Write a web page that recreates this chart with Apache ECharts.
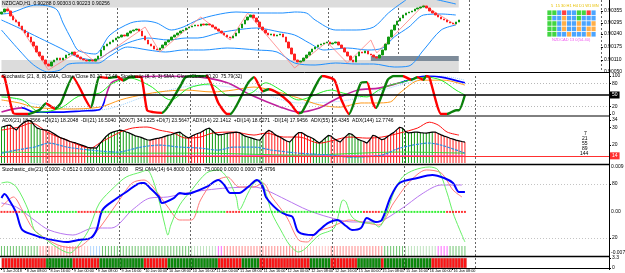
<!DOCTYPE html>
<html>
<head>
<meta charset="utf-8">
<title>NZDCAD H1</title>
<script src="https://cdn.jsdelivr.net/npm/echarts@6.0.0/dist/echarts.min.js"></script>
<style>
  html, body { margin: 0; padding: 0; background: #fff; }
  #chart { width: 625px; height: 273px; }
</style>
</head>
<body>
<div id="chart"></div>
<script>
// hourly bars, the chart keeps an empty shift area on the right
const SLOTS = 205;
const timeLabels = ['5 Jan 2018', '8 Jan 08:00', '8 Jan 16:00', '9 Jan 00:00', '9 Jan 08:00', '9 Jan 16:00',
  '10 Jan 00:00', '10 Jan 08:00', '10 Jan 16:00', '11 Jan 00:00', '11 Jan 08:00', '11 Jan 16:00',
  '12 Jan 00:00', '12 Jan 08:00', '12 Jan 16:00', '15 Jan 00:00', '15 Jan 08:00', '15 Jan 16:00',
  '16 Jan 00:00', '16 Jan 08:00'];

const firstOpen = 0.90340;
const closes = [
  0.90350, 0.90365, 0.90355, 0.90330, 0.90310, 0.90300, 0.90280, 0.90260, 0.90245, 0.90225,
  0.90200, 0.90180, 0.90150, 0.90130, 0.90110, 0.90090, 0.90080, 0.90100, 0.90110, 0.90120,
  0.90110, 0.90120, 0.90135, 0.90140, 0.90150, 0.90135, 0.90125, 0.90115, 0.90110, 0.90105,
  0.90110, 0.90105, 0.90115, 0.90130, 0.90160, 0.90180, 0.90190, 0.90200, 0.90210, 0.90220,
  0.90225, 0.90235, 0.90230, 0.90245, 0.90255, 0.90260, 0.90265, 0.90255, 0.90230, 0.90210,
  0.90190, 0.90180, 0.90165, 0.90160, 0.90170, 0.90185, 0.90200, 0.90210, 0.90225, 0.90235,
  0.90245, 0.90255, 0.90260, 0.90270, 0.90275, 0.90280, 0.90285, 0.90280, 0.90290, 0.90285,
  0.90290, 0.90285, 0.90275, 0.90265, 0.90255, 0.90245, 0.90235, 0.90225, 0.90220, 0.90230,
  0.90245, 0.90270, 0.90290, 0.90310, 0.90325, 0.90335, 0.90320, 0.90300, 0.90275, 0.90260,
  0.90245, 0.90235, 0.90240, 0.90230, 0.90235, 0.90240, 0.90225, 0.90200, 0.90170, 0.90140,
  0.90110, 0.90100, 0.90105, 0.90120, 0.90135, 0.90150, 0.90165, 0.90175, 0.90185, 0.90190,
  0.90195, 0.90200, 0.90190, 0.90195, 0.90200, 0.90185, 0.90170, 0.90150, 0.90130, 0.90110,
  0.90100, 0.90130, 0.90150, 0.90145, 0.90155, 0.90140, 0.90135, 0.90125, 0.90120, 0.90135,
  0.90160, 0.90190, 0.90225, 0.90260, 0.90285, 0.90305, 0.90320, 0.90335, 0.90345, 0.90350,
  0.90355, 0.90365, 0.90370, 0.90375, 0.90380, 0.90370, 0.90355, 0.90345, 0.90335, 0.90325,
  0.90315, 0.90310, 0.90300, 0.90295, 0.90290, 0.90300, 0.90310
];

// bollinger bands, read at a few bars
const bbIdxU = [0, 3, 12, 16, 19, 21, 24, 26, 29, 32, 37, 44, 49, 53, 58, 62, 67, 73, 80, 88, 96, 100, 104, 107, 114, 121, 127, 132, 137, 141, 149, 155];
const bbUpper = [0.90340, 0.90345, 0.90385, 0.90380, 0.90360, 0.90295, 0.90210, 0.90160, 0.90145, 0.90140,
  0.90235, 0.90295, 0.90305, 0.90295, 0.90260, 0.90275, 0.90310, 0.90335, 0.90350, 0.90345,
  0.90345, 0.90350, 0.90345, 0.90310, 0.90260, 0.90260, 0.90275, 0.90345, 0.90400, 0.90435, 0.90410, 0.90390];
const bbIdxM = [0, 6, 13, 20, 26, 32, 37, 43, 50, 57, 63, 67, 74, 80, 87, 95, 100, 105, 110, 114, 118, 125, 130, 134, 139, 144, 150, 155];
const bbMid = [0.90310, 0.90270, 0.90220, 0.90170, 0.90125, 0.90110, 0.90150, 0.90195, 0.90220, 0.90210,
  0.90220, 0.90220, 0.90245, 0.90260, 0.90270, 0.90250, 0.90235, 0.90195, 0.90160, 0.90165,
  0.90170, 0.90160, 0.90170, 0.90225, 0.90275, 0.90335, 0.90340, 0.90335];
const bbIdxL = [0, 6, 11, 16, 20, 23, 28, 33, 37, 43, 50, 56, 62, 69, 77, 87, 94, 100, 107, 114, 121, 127, 134, 139, 144, 150, 155];
const bbLower = [0.90260, 0.90160, 0.90085, 0.90050, 0.90060, 0.90090, 0.90095, 0.90095, 0.90130, 0.90175,
  0.90160, 0.90150, 0.90160, 0.90160, 0.90170, 0.90160, 0.90150, 0.90095, 0.90085, 0.90095,
  0.90090, 0.90090, 0.90075, 0.90080, 0.90160, 0.90260, 0.90285];
const zigIdx = [2, 16, 27, 32, 49, 54, 68, 78, 84, 100, 111, 118, 126, 128, 144, 155];
const zigVal = [0.90375, 0.90060, 0.90160, 0.90100, 0.90275, 0.90150, 0.90325, 0.90210, 0.90345, 0.90070,
  0.90200, 0.90095, 0.90210, 0.90145, 0.90385, 0.90285];
const levelLines = [0.90355, 0.90265, 0.90230, 0.90190, 0.90150];
const bidPrice = 0.90325;
const priceTicks = [0.90355, 0.90295, 0.90240, 0.90175, 0.90110, 0.90050];

// stochastic panel
const kIdx = [0, 1, 4, 6, 9, 11, 13, 15, 17, 18, 20, 24, 30, 33, 36, 39, 41, 43, 45, 47,
  49, 51, 54, 60, 62, 66, 69, 73, 76, 77, 83, 85, 88, 90, 93, 97, 100, 101, 105, 108,
  112, 114, 117, 121, 123, 125, 126, 130, 132, 135, 138, 140, 142, 143, 144, 148, 150, 151, 153, 154, 156];
const kVal = [100, 97, 2, 0, 0, 5, 12, 28, 18, 14, 29, 97, 18, 97, 95, 98, 88, 97, 98, 97,
  10, 5, 3, 71, 97, 100, 100, 29, 0, 0, 82, 97, 60, 65, 55, 30, 2, 3, 63, 100,
  90, 45, 0, 82, 84, 29, 16, 90, 100, 100, 90, 97, 90, 100, 97, 0, 0, 3, 10, 10, 50];
const limeIdx = [0, 7, 13, 20, 26, 33, 37, 43, 50, 57, 63, 70, 77, 84, 89, 94, 100, 111, 115, 118, 123, 127, 131, 134, 143, 148, 153, 156];
const limeVal = [45, 37, 5, 16, 47, 55, 79, 95, 74, 37, 68, 79, 47, 55, 82, 63, 37, 63, 55, 50, 45, 63, 76, 82, 97, 89, 63, 50];
const orIdx = [0, 6, 11, 22, 33, 40, 44, 53, 62, 71, 78, 85, 93, 100, 107, 114, 121, 126, 131, 134, 141, 149, 156];
const orVal = [37, 29, 18, 13, 18, 37, 45, 58, 63, 58, 63, 71, 58, 42, 24, 18, 29, 29, 32, 55, 89, 89, 76];
const lbIdx = [0, 13, 33, 50, 67, 84, 100, 117, 134, 148, 156];
const lbVal = [50, 24, 11, 50, 76, 63, 29, 37, 76, 100, 89];
const slowIdx = [0, 7, 11, 20, 27, 33, 37, 43, 54, 67, 76, 84, 94, 100, 107, 112, 120, 127, 134, 143, 148, 156];
const slowVal = [5, 16, 5, 5, 8, 11, 82, 95, 100, 97, 82, 50, 18, 5, 16, 37, 63, 68, 82, 100, 97, 82];

// ADX panel
const adxVal = [
  30.0, 30.5, 31.0, 31.2, 29.5, 28.4, 30.5, 32.0, 33.0, 33.8,
  33.5, 31.0, 29.5, 29.0, 28.6, 28.4, 28.0, 27.0, 26.0, 25.0,
  24.0, 23.5, 22.8, 22.0, 21.6, 21.2, 20.6, 20.0, 19.4, 18.8,
  18.5, 18.4, 18.3, 20.5, 22.5, 24.5, 26.0, 27.0, 27.5, 28.0,
  28.4, 28.0, 27.3, 26.8, 26.0, 25.2, 24.8, 24.3, 23.6, 23.0,
  22.8, 23.2, 23.6, 23.9, 24.3, 24.9, 25.4, 25.8, 26.4, 27.0,
  27.3, 26.0, 24.8, 24.0, 25.0, 25.8, 26.5, 27.0, 28.0, 29.0,
  29.5, 28.0, 26.5, 25.7, 25.8, 26.2, 26.6, 26.8, 27.0, 27.2,
  27.0, 26.0, 25.0, 24.5, 24.0, 23.5, 23.0, 22.8, 25.0, 27.0,
  28.3, 27.5, 26.0, 25.0, 24.2, 23.2, 22.3, 21.7, 23.5, 25.5,
  27.0, 27.0, 26.0, 25.0, 24.4, 23.5, 22.3, 21.2, 22.5, 24.0,
  25.4, 25.0, 23.5, 22.5, 21.7, 23.5, 25.0, 26.5, 26.0, 24.5,
  23.2, 22.6, 22.0, 21.1, 23.0, 25.5, 25.0, 24.0, 23.0, 23.5,
  24.8, 26.0, 27.0, 28.5, 30.0, 29.5, 27.5, 26.8, 27.0, 27.2,
  27.3, 27.0, 26.8, 26.7, 27.0, 27.3, 27.3, 26.5, 25.7, 25.0,
  24.5, 23.8, 23.3, 22.8, 22.4, 22.0, 21.7
];
const adxRuns = [[2, 'G'], [8, 'R'], [4, 'G'], [15, 'R'], [21, 'G'], [6, 'R'], [7, 'G'], [6, 'R'], [8, 'G'], [4, 'R'],
  [8, 'G'], [8, 'R'], [2, 'G'], [6, 'R'], [6, 'G'], [6, 'R'], [5, 'G'], [13, 'R'], [11, 'G'], [11, 'R']];
const diRedIdx = [0, 6, 10, 16, 22, 30, 33, 40, 44, 49, 53, 58, 62, 67, 71, 78, 85, 89, 95, 100, 107, 112, 117, 123, 128, 134, 140, 144, 147, 150, 154];
const diRed = [28.4, 30.1, 32.3, 26.7, 22.8, 18.3, 21.1, 27.3, 29.5, 30.1, 28.4, 26.7, 23.9, 24.5, 26.7, 27.3,
  25.6, 26.7, 24.5, 24.5, 21.1, 22.8, 24.5, 23.9, 24.5, 26.7, 29.5, 32.8, 31.2, 27.3, 25.6];
const diBlueIdx = [0, 5, 11, 16, 22, 30, 39, 47, 53, 60, 67, 73, 78, 85, 91, 100, 111, 117, 128, 134, 144, 148, 156];
const diBlue = [15.5, 17.2, 18.9, 21.1, 18.9, 17.2, 16.1, 18.9, 20.0, 18.9, 18.3, 17.2, 18.9, 18.9, 17.2, 15.5,
  14.4, 13.3, 14.4, 18.3, 21.1, 20.0, 15.5];
const adxLimeIdx = [0, 33, 67, 100, 134, 156];
const adxLime = [16.1, 15.5, 15.5, 14.4, 16.1, 15.5];
const adxPinkIdx = [0, 50, 100, 156];
const adxPink = [13.6, 13.9, 14.2, 14.0];
const adxLevel = 14;

// stochastic_div / RSI panel
const blueIdx = [0, 1, 3, 5, 7, 11, 14, 22, 26, 30, 32, 34, 38, 42, 47, 48, 50, 53, 54, 58,
  60, 62, 64, 69, 73, 75, 77, 80, 83, 86, 88, 89, 93, 96, 98, 100, 105, 107, 110, 113,
  116, 118, 121, 123, 126, 128, 131, 134, 140, 145, 149, 152, 154, 156];
const blueVal = [64.4, 68.9, 60, 47.8, 28.9, 23.3, 20, 15.6, 17.8, 20, 28.9, 51.1, 62.2, 71.1, 81.1, 81.1, 75.6, 65.6, 58.9, 64.4,
  70, 68.9, 70, 76.7, 84.4, 78.9, 70, 70, 76.7, 84.4, 76.7, 65.6, 51.1, 45.6, 43.3, 26.7, 23.3, 28.9, 36.7, 40,
  33.3, 28.9, 31.1, 42.2, 37.8, 40, 65.6, 81.1, 86.7, 90, 86.7, 81.1, 71.1, 71.1];
const greenIdx = [0, 2, 5, 9, 11, 13, 19, 23, 26, 29, 30, 33, 38, 42, 47, 49, 51, 53, 55, 56,
  57, 60, 64, 69, 73, 76, 79, 80, 83, 85, 87, 89, 91, 94, 97, 100, 107, 112, 115, 116,
  118, 122, 125, 127, 130, 132, 135, 139, 144, 147, 150, 152, 154, 156];
const greenVal = [81.1, 82.2, 76.7, 51.1, 28.9, 23.3, 8.9, 3.3, 12.2, 26.7, 34.4, 58.9, 76.7, 87.8, 93.3, 95.6, 84.4, 62.2, 34.4, 23.3,
  34.4, 56.7, 73.3, 92.2, 95.6, 86.7, 65.6, 51.1, 70, 81.1, 84.4, 70, 47.8, 28.9, 12.2, 4.4, 23.3, 31.1, 62.2, 60,
  43.3, 36.7, 36.7, 32.2, 51.1, 70, 87.8, 95.6, 98.9, 95.6, 70, 47.8, 31.1, 15.6];
const salmonIdx = [0, 4, 7, 11, 19, 25, 30, 33, 39, 44, 48, 51, 56, 60, 64, 67, 71, 76, 80, 85,
  88, 91, 96, 100, 103, 106, 111, 114, 117, 123, 127, 132, 137, 143, 148, 152, 155];
const salmonVal = [54.4, 65.6, 51.1, 28.9, 12.2, 8.9, 20, 31.1, 58.9, 81.1, 84.4, 76.7, 54.4, 40, 40, 62.2, 81.1, 87.8, 76.7, 76.7,
  81.1, 65.6, 43.3, 17.8, 15.6, 26.7, 32.2, 36.7, 40, 36.7, 34.4, 58.9, 81.1, 95.6, 92.2, 73.3, 65.6];
const purpleIdx = [0, 5, 11, 16, 24, 31, 37, 44, 50, 56, 62, 69, 76, 85, 89, 96, 103, 110, 118, 126, 134, 142, 148, 155];
const purpleVal = [58.9, 54.4, 40, 28.9, 23.3, 31.1, 31.1, 51.1, 64.4, 65.6, 70, 73.3, 75.6, 76.7, 73.3, 62.2, 51.1, 43.3, 37.8, 37.8,
  51.1, 70, 78.9, 78.9];
const divLevel = 49;
const dotRuns = [[7, 'R'], [19, 'G'], [8, 'R'], [42, 'G'], [5, 'R'], [41, 'G'], [6, 'R'], [22, 'G'], [7, 'R']];
const histRuns = [[13, 'G'], [14, 'S'], [3, 'P'], [4, 'L'], [30, 'G'], [9, 'Q'], [2, 'M'], [25, 'S'], [11, 'P'], [18, 'S'],
  [7, 'G'], [11, 'Q'], [4, 'M'], [6, 'G']];
const blockRuns = [[15, 'R'], [9, 'G'], [9, 'R'], [15, 'G'], [8, 'R'], [17, 'G'], [8, 'R'], [6, 'G'], [17, 'R'], [7, 'G'],
  [9, 'R'], [8, 'G'], [1, 'R'], [16, 'G'], [12, 'R']];

// trend matrix, top right
const matrixRows = ['GGBRBBGGRB', 'GBBOBBGBBB', 'GGBOBBOBBO', 'GGBOBBOBOO', 'GGBBOBBBOB'];

const chart = echarts.init(document.getElementById('chart'), null, { renderer: 'canvas' });

const cats = Array.from({ length: SLOTS }, (_, i) => i);
const FONT = 'Liberation Sans';
const NARROW = 'Liberation Sans Narrow, Liberation Sans';
const pairs = (idx, vals) => idx.map((x, k) => [x, vals[k]]);
const expand = (runs) => {
  const out = [];
  runs.forEach(([n, c]) => { for (let k = 0; k < n; k++) out.push(c); });
  return out;
};

const ohlc = closes.map((c, i) => {
  const o = i ? closes[i - 1] : firstOpen;
  return [o, c, Math.min(o, c), Math.max(o, c)];
});

const grids = [
  { left: 0, right: 16, top: 0, height: 72 },
  { left: 0, right: 16, top: 76, height: 38 },
  { left: 0, right: 16, top: 117, height: 46 },
  { left: 0, right: 16, top: 166, height: 90 },
  { left: 0, right: 16, top: 246, height: 10 },
  { left: 0, right: 16, top: 258, height: 10 },
  { left: 547, top: 10, width: 49, height: 27 }
];

function xAx(g, labels) {
  return {
    type: 'category', gridIndex: g, data: cats, boundaryGap: true,
    axisLine: { show: false },
    axisTick: { show: labels, interval: (i) => i % 8 === 0 && i < 157, length: 2, lineStyle: { color: '#000' } },
    axisLabel: {
      show: labels, interval: (i) => i % 8 === 0 && i < 157, fontSize: 3.8, fontFamily: NARROW,
      color: '#000', align: 'left', margin: 0.5,
      formatter: (v) => timeLabels[v / 8] || ''
    },
    splitLine: { show: true, interval: (i) => i % 24 === 16 && i <= 160, lineStyle: { color: '#666', type: [2, 2], width: 1 } }
  };
}
function yAx(g, min, max, ticks, fmt) {
  return {
    type: 'value', gridIndex: g, position: 'right', min, max, scale: true,
    axisLine: { show: false }, splitLine: { show: false },
    axisTick: { show: true, customValues: ticks, length: 2, inside: false, lineStyle: { color: '#000' } },
    axisLabel: { show: true, customValues: ticks, fontSize: 5, fontFamily: NARROW, color: '#000', margin: 3, formatter: fmt }
  };
}
function line(g, idx, vals, color, width, extra) {
  return Object.assign({
    type: 'line', xAxisIndex: g, yAxisIndex: g, data: pairs(idx, vals), symbol: 'none', smooth: 0.3,
    lineStyle: { color, width }, silent: true, z: 3
  }, extra || {});
}

const series = [];
// price panel
series.push({
  type: 'candlestick', xAxisIndex: 0, yAxisIndex: 0, data: ohlc, barWidth: 2,
  itemStyle: { color: '#119911', color0: '#ff2020', borderColor: '#119911', borderColor0: '#ff2020', borderWidth: 1 },
  z: 4,
  markArea: {
    silent: true,
    data: [
      [{ xAxis: 0, yAxis: 0.90410, itemStyle: { color: '#dcdcdc' } }, { xAxis: 156, yAxis: 0.90372 }],
      [{ xAxis: 0, yAxis: 0.90110, itemStyle: { color: '#dcdcdc' } }, { xAxis: 156, yAxis: 0.90050 }],
      [{ xAxis: 126, yAxis: 0.90130, itemStyle: { color: '#7d8b99' } }, { xAxis: 156, yAxis: 0.90105 }]
    ]
  },
  markLine: {
    silent: true, symbol: 'none', animation: false,
    data: levelLines.map((v) => ({ yAxis: v, lineStyle: { color: '#555', type: [4, 2, 1, 2], width: 1 }, label: { show: false } }))
      .concat([{ yAxis: bidPrice, lineStyle: { color: '#aaa', type: 'solid', width: 1 },
        label: { show: true, position: 'end', formatter: bidPrice.toFixed(5), color: '#fff', backgroundColor: '#000',
          fontSize: 5, fontFamily: NARROW, padding: [1, 1], distance: 1 } }])
  }
});
series.push(line(0, bbIdxU, bbUpper, '#1e8fff', 1));
series.push(line(0, bbIdxM, bbMid, '#1e8fff', 1));
series.push(line(0, bbIdxL, bbLower, '#1e8fff', 1));
series.push(line(0, zigIdx, zigVal, '#ff8080', 0.8, { smooth: false }));

// stochastic panel
series.push(line(1, lbIdx, lbVal, '#9fd4ff', 1, { lineStyle: { color: '#9fd4ff', width: 1, type: [1, 1] } }));
series.push(line(1, orIdx, orVal, '#ff9a1a', 1));
const slowSeries = series.length;
series.push(line(1, slowIdx, slowVal, null, 1.6, { lineStyle: { width: 1.6 } }));
series.push(line(1, limeIdx, limeVal, '#22ee22', 1));
const kSeries = series.length;
series.push(line(1, kIdx, kVal, null, 2.4, {
  smooth: 0.2,
  lineStyle: { width: 2.4 },
  markLine: {
    silent: true, symbol: 'none',
    data: [
      { yAxis: 50, lineStyle: { color: '#000', width: 1.5, type: 'solid' },
        label: { show: true, position: 'end', formatter: '50', color: '#fff', backgroundColor: '#000', fontSize: 5, fontFamily: FONT, padding: [1, 2], distance: 1 } },
      { yAxis: 80, lineStyle: { color: '#999', width: 0.7, type: [1, 2] }, label: { show: false } },
      { yAxis: 20, lineStyle: { color: '#999', width: 0.7, type: [1, 2] }, label: { show: false } }
    ]
  }
}));

// ADX panel
const adxColors = expand(adxRuns);
series.push({
  type: 'bar', xAxisIndex: 2, yAxisIndex: 2, barWidth: 1, silent: true,
  data: adxVal.map((v, i) => ({ value: v, itemStyle: { color: adxColors[i] === 'G' ? '#109a10' : '#ff1a1a' } }))
});
series.push(line(2, adxPinkIdx, adxPink, '#ff4ccc', 1));
series.push(line(2, adxLimeIdx, adxLime, '#33dd33', 1));
series.push(line(2, diBlueIdx, diBlue, '#2d8fe0', 1.2, { lineStyle: { color: '#2d8fe0', width: 1.2, type: [3, 1] } }));
series.push(line(2, diRedIdx, diRed, '#ff1010', 1));
series.push({
  type: 'line', xAxisIndex: 2, yAxisIndex: 2, data: adxVal, symbol: 'none', silent: true, z: 4,
  lineStyle: { color: '#000', width: 1.2 },
  markLine: {
    silent: true, symbol: 'none',
    data: [{ yAxis: adxLevel, lineStyle: { color: '#ff3030', width: 1, type: 'solid' },
      label: { show: true, position: 'end', formatter: String(adxLevel), color: '#fff', backgroundColor: '#ff3030', fontSize: 5, fontFamily: FONT, padding: [1, 2], distance: 1 } }]
  }
});

// stochastic_div / RSI panel
series.push(line(3, purpleIdx, purpleVal, '#b877f0', 1, {
  markLine: {
    silent: true, symbol: 'none',
    data: [
      { yAxis: 80, lineStyle: { color: '#aaa', width: 0.7, type: [1, 2] }, label: { show: false } },
      { yAxis: 20, lineStyle: { color: '#aaa', width: 0.7, type: [1, 2] }, label: { show: false } }
    ]
  }
}));
series.push(line(3, salmonIdx, salmonVal, '#ff7a7a', 1));
series.push(line(3, greenIdx, greenVal, '#66f066', 1));
series.push(line(3, blueIdx, blueVal, '#0000ff', 2));
const dotColors = expand(dotRuns);
series.push({
  type: 'scatter', xAxisIndex: 3, yAxisIndex: 3, symbol: 'rect', symbolSize: [2, 2], silent: true, z: 5,
  data: dotColors.map((c, i) => ({ value: [i, divLevel], itemStyle: { color: c === 'G' ? '#00ee00' : '#ff0000' } }))
});
const histPalette = { G: '#70c470', S: '#ff8c8c', P: '#ffc4c4', L: '#b4d8ff', Q: '#bfe3bf', M: '#ff66ff' };
series.push({
  type: 'bar', xAxisIndex: 4, yAxisIndex: 4, barWidth: 1, silent: true,
  data: expand(histRuns).map((c) => ({ value: 1, itemStyle: { color: histPalette[c] } }))
});
series.push({
  type: 'bar', xAxisIndex: 5, yAxisIndex: 5, barCategoryGap: '0%', silent: true,
  data: expand(blockRuns).map((c) => ({ value: 1, itemStyle: { color: c === 'G' ? '#0c8a0c' : '#ff1414', borderColor: 'rgba(0,0,0,0.25)', borderWidth: 0.4 } }))
});
const matPalette = { G: '#11cc11', B: '#1e8fff', O: '#ff9a1a', R: '#ff1010' };
const matData = [];
matrixRows.forEach((row, r) => row.split('').forEach((c, k) => matData.push({ value: [k, r], itemStyle: { color: matPalette[c] } })));
series.push({
  type: 'scatter', xAxisIndex: 6, yAxisIndex: 6, symbol: 'rect', symbolSize: [4.2, 4.6], silent: true, data: matData
});

const kPieces = [];
for (let j = 0, up = false; j < kIdx.length - 1; j++) {
  if (kVal[j + 1] > kVal[j]) up = true; else if (kVal[j + 1] < kVal[j]) up = false;
  kPieces.push({ gte: kIdx[j], lt: kIdx[j + 1], color: up ? '#0a800a' : '#ff0000' });
}

const txt = (x, y, s, color, size) => ({
  type: 'text', x, y, silent: true, z: 10,
  style: { text: s, fill: color || '#000', fontSize: size || 5, fontFamily: NARROW }
});
const hline = (y, color, w) => ({ type: 'line', silent: true, z: 9, shape: { x1: 0, y1: y, x2: 609, y2: y }, style: { stroke: color || '#000', lineWidth: w || 1 } });

chart.setOption({
  animation: false,
  backgroundColor: '#fff',
  grid: grids,
  xAxis: [xAx(0, false), xAx(1, false), xAx(2, false), xAx(3, false), xAx(4, false), xAx(5, true),
    { type: 'category', gridIndex: 6, data: cats.slice(0, 10), show: false }],
  yAxis: [
    yAx(0, 0.90050, 0.90410, priceTicks, (v) => v.toFixed(5)),
    yAx(1, 0, 100, [100, 80, 20, 0], (v) => String(v)),
    yAx(2, 10, 35.7, [34, 30, 20], (v) => String(v)),
    yAx(3, 0, 100, [80, 20], (v) => String(v)),
    Object.assign(yAx(4, 0, 1, [], (v) => v), { axisLabel: { show: false }, axisTick: { show: false } }),
    yAx(5, 0, 1, [0, 1], (v) => (v ? '3.3' : '0')),
    { type: 'category', gridIndex: 6, data: [0, 1, 2, 3, 4], inverse: true, show: false }
  ],
  visualMap: [
    { type: 'piecewise', show: false, dimension: 0, seriesIndex: kSeries, pieces: kPieces, outOfRange: { color: '#0a800a' } },
    { type: 'piecewise', show: false, dimension: 0, seriesIndex: slowSeries,
      pieces: [{ gte: 0, lt: 7, color: '#c0209c' }, { gte: 7, lt: 35, color: '#0000ff' }, { gte: 35, lt: 134, color: '#c0209c' }, { gte: 134, lte: 160, color: '#0000ff' }] }
  ],
  series,
  graphic: [
    hline(72.5), hline(116, '#000'), hline(164.5, '#000', 1.5), hline(256.5, '#000', 1.5), hline(268.5),
    { type: 'line', silent: true, z: 9, shape: { x1: 609.5, y1: 0, x2: 609.5, y2: 268 }, style: { stroke: '#000', lineWidth: 1 } },
    txt(2, 1, 'NZDCAD,H1  0.90288 0.90303 0.90223 0.90256'),
    txt(2, 74, 'Stochastic (21, 8, 8) SMA, Close/Close 80.20  73.46  Stochastic (8, 3, 3) SMA, Close/Close 80.20  75.79(32)'),
    txt(2, 118, 'ADX(21) 18.2566 +DI(21) 18.2048  -DI(21) 16.5040  ADX(7) 34.1225 +DI(7) 23.5647  ADX(14) 22.1412  +DI(14) 18.6271  -DI(14) 17.9456  ADX(55) 16.4345  ADX(144) 12.7746'),
    txt(2, 167, 'Stochastic_div(21) 0.0000 -0.0512 0.0000 0.0000 0.0000     RSI OMA(14) 64.8000 0.0000 -75.0000 0.0000 0.0000 75.4796'),
    txt(611, 164, '0.009'), txt(611, 209, '0.00'), txt(611, 250, '-0.0078'),
    txt(584, 131, '7'), txt(582, 136, '21'), txt(582, 141, '55'), txt(582, 146, '89'), txt(580, 151, '144'),
    txt(551, 4, '5  15 30 H1 H4 D1 W1 MN', '#e8c000', 4),
    txt(552, 38, 'NZDCAD 13 0(54.40)', '#ee55ee', 4)
  ]
});
</script>
</body>
</html>
